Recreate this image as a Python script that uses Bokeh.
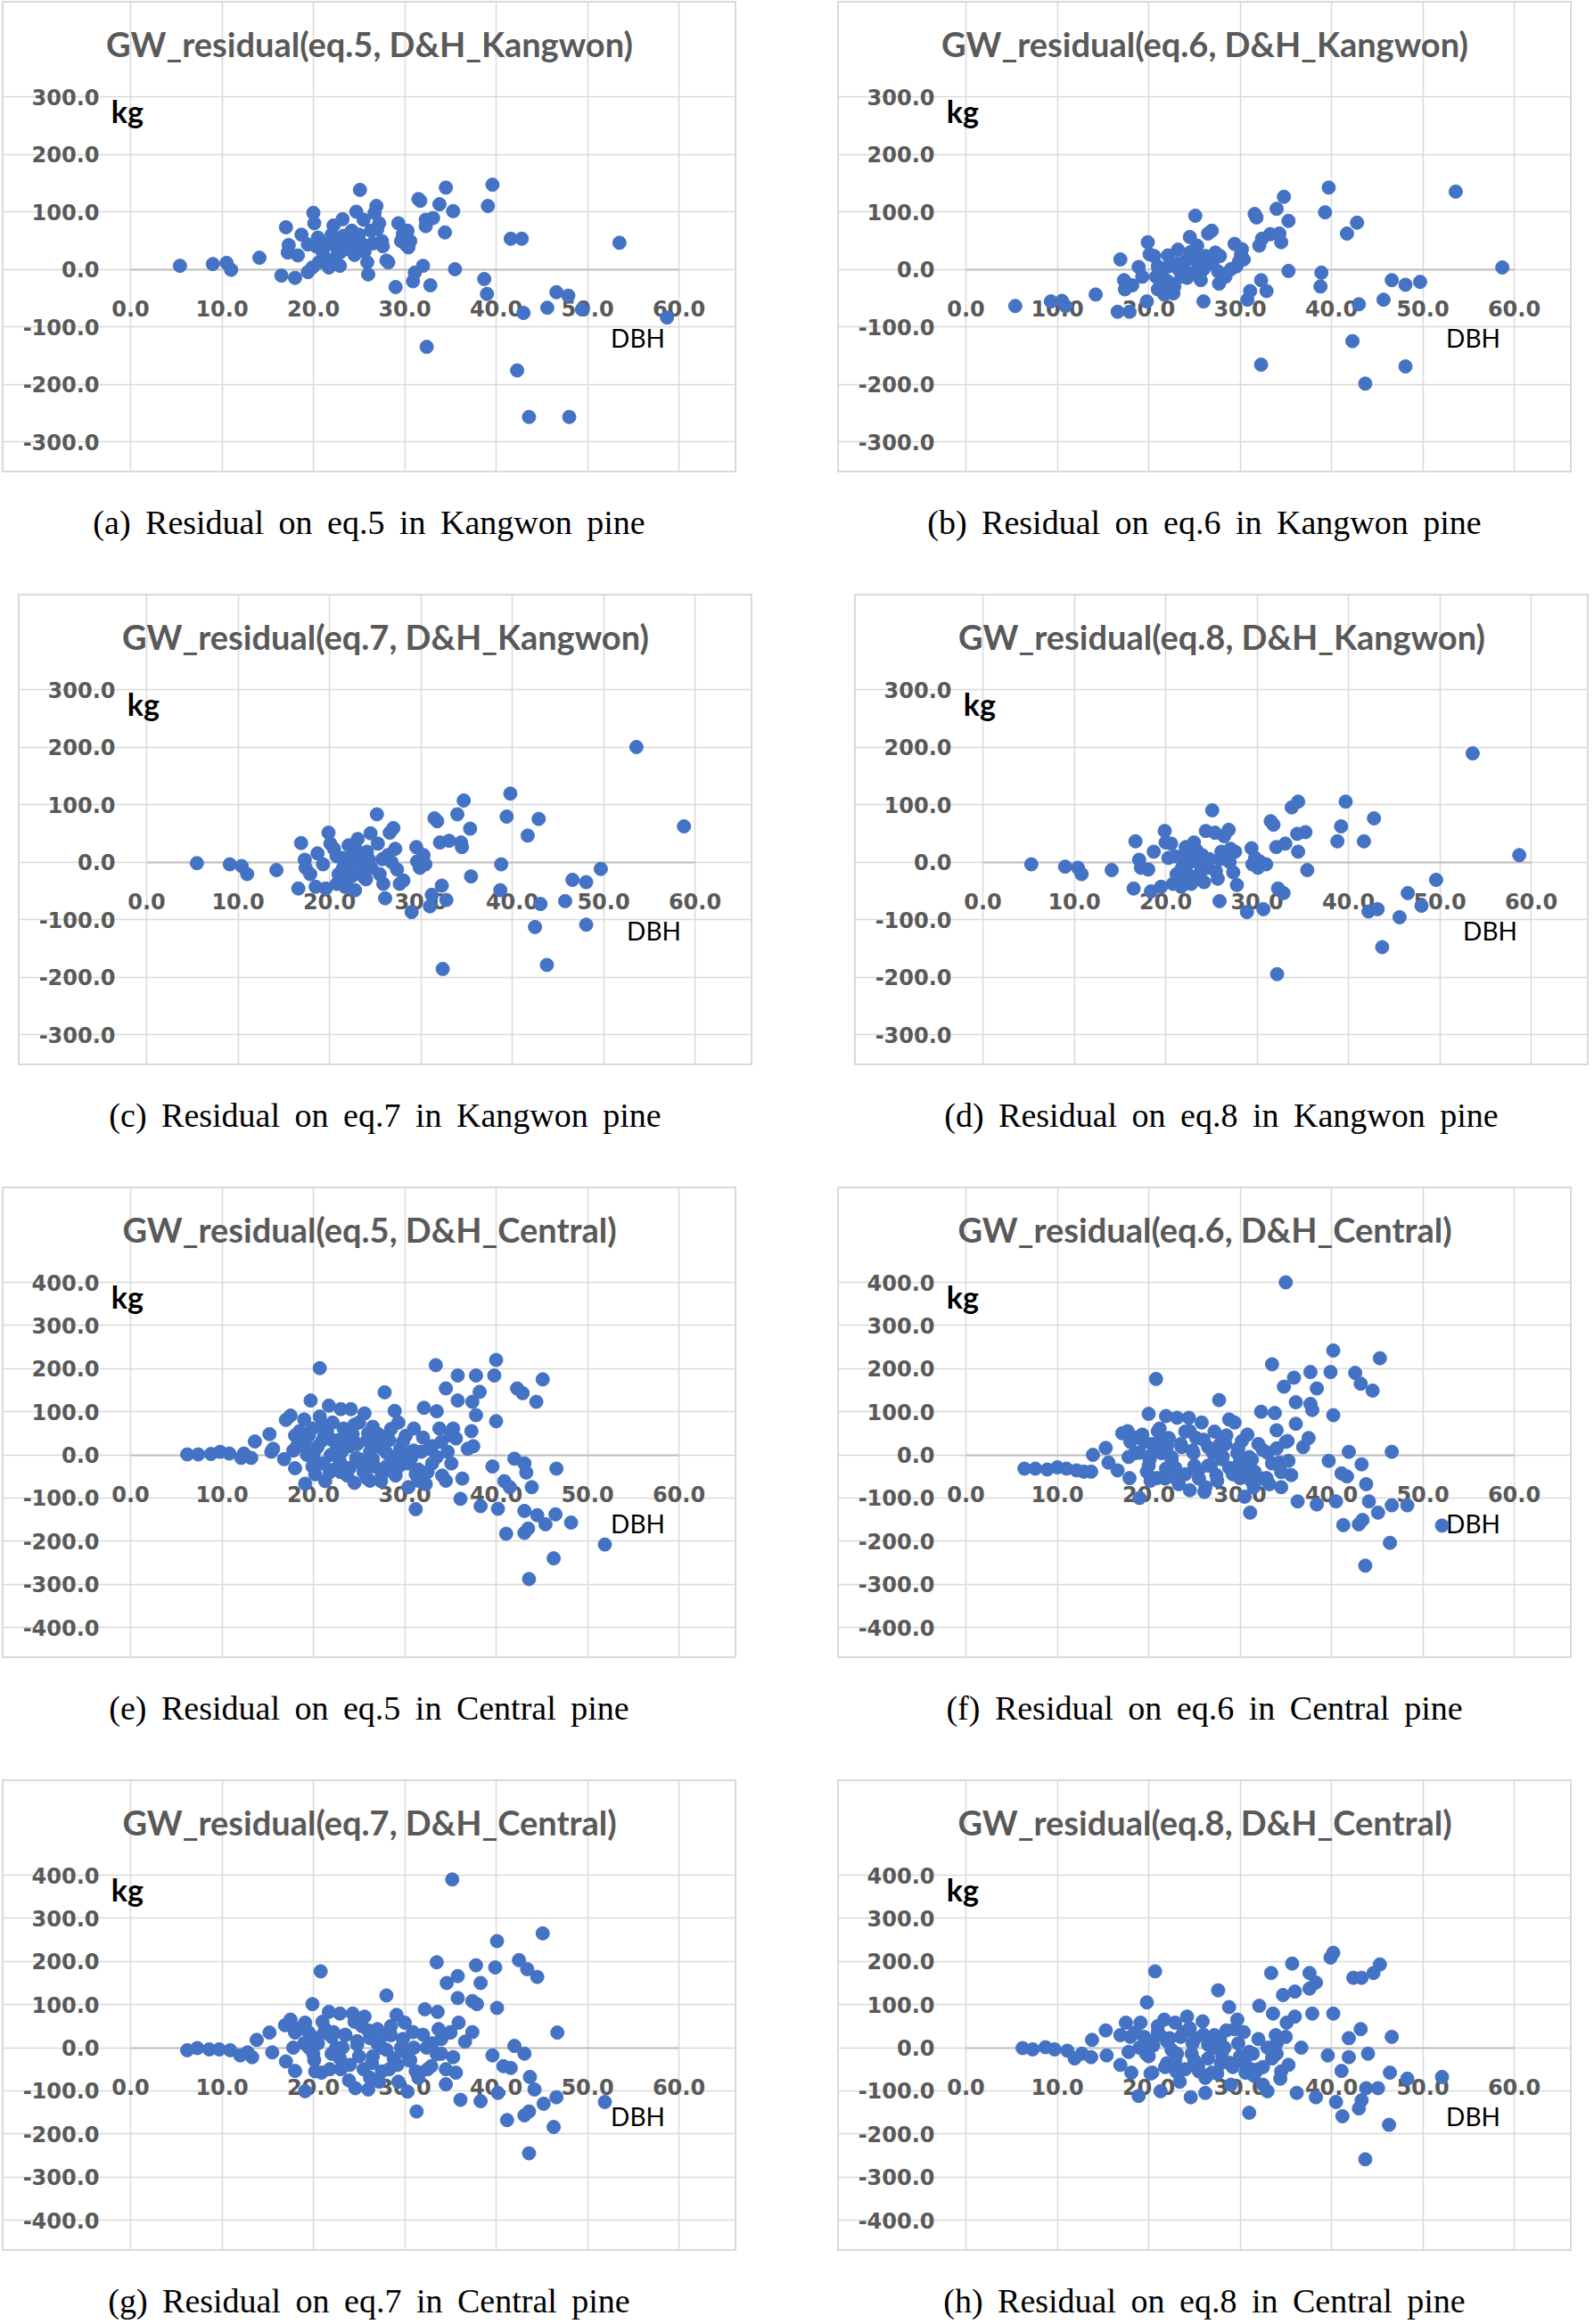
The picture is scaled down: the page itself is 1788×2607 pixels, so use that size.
from bokeh.plotting import figure
from bokeh.models import Range1d, FixedTicker, NumeralTickFormatter, Label, Div, Spacer
from bokeh.layouts import column, row
from bokeh.embed import file_html
from bokeh.resources import INLINE

# ---------------- data: (DBH, residual kg) ----------------
A_PTS = [(5.4,6),(9.0,9),(10.5,11),(11.0,-1),(14.1,20),(16.5,-11),(17.0,73),(17.3,42),(17.2,29),(18.0,-15),
         (18.3,24),(18.7,60),(19.4,43),(19.4,-5),(19.9,3),(20.0,98),(20.1,80),(20.5,55),(20.6,12),(21.2,21),
         (21.4,43),(21.7,3),(22.2,76),(22.4,18),(22.8,49),(22.9,6),(23.2,87),(23.3,58),(23.8,40),(24.2,67),
         (24.3,31),(24.7,100),(24.8,49),(25.1,138),(25.4,43),(25.5,86),(25.6,31),(25.9,12),(26.0,-9),(26.3,67),
         (26.7,98),(26.9,110),(27.2,80),(27.5,49),(27.6,40),(28.0,15),(28.2,12),(29.0,-31),(29.3,80),(29.6,49),
         (29.8,61),(30.1,43),(30.3,67),(30.6,49),(30.9,-21),(31.1,-6),(31.5,122),(31.7,119),(32.0,6),(32.3,86),
         (32.3,75),(32.4,-135),(32.8,-28),(33.1,89),(33.8,113),(34.5,142),(34.4,64),(35.3,101),(35.5,0),(38.7,-17),
         (39.0,-43),(39.1,110),(39.6,147),(41.6,53),(42.8,53),(42.3,-176),(43.0,-76),(43.6,-257),(45.6,-67),(46.6,-40),
         (47.9,-46),(48.0,-257),(49.4,-70),(53.5,46),(58.7,-84),
         (21.0,30),(22.0,60),(23.5,50),(24.0,35),(25.0,60),(26.5,45),(24.5,25),(23.0,30),(21.8,15),(27.0,70),
         (20.3,40),(22.6,35),(29.9,55),(30.4,38)]

B_PTS = [(5.4,-64),(9.3,-56),(10.5,-55),(10.9,-64),(14.2,-44),(16.6,-74),(16.9,17),(17.3,-19),(17.4,-35),(17.9,-74),
         (18.2,-28),(18.9,4),(19.3,-13),(19.8,-56),(19.9,47),(20.1,26),(20.6,23),(20.8,-13),(21.0,-35),(21.4,-1),
         (21.7,-44),(22.1,24),(22.2,5),(22.5,-25),(22.7,-42),(23.2,34),(23.3,-1),(23.6,-13),(24.0,14),(24.3,-7),
         (24.5,56),(24.9,-7),(25.1,93),(25.3,41),(25.4,5),(25.7,-19),(26.0,-56),(26.2,23),(26.5,62),(26.9,67),
         (27.3,29),(27.6,-4),(27.7,-25),(27.8,23),(28.4,-13),(29.4,44),(29.6,5),(29.9,14),(30.1,26),(30.4,17),
         (30.8,-53),(31.1,-38),(31.6,96),(31.8,90),(32.1,41),(32.3,-166),(32.3,-19),(32.4,53),(32.9,-38),(33.3,61),
         (34.0,105),(34.3,62),(34.5,47),(34.8,126),(35.3,84),(35.3,-3),(38.8,-30),(38.9,-6),(39.3,99),(39.7,142),
         (41.7,62),(42.3,-125),(42.8,81),(43.0,-61),(43.7,-199),(45.7,-53),(46.6,-19),(48.1,-27),(48.1,-169),(49.7,-22),
         (53.6,135),(58.7,3),
         (21.0,5),(22.0,-20),(23.0,10),(24.2,-15),(25.0,20),(26.0,0),(27.0,10),(22.8,-30),(24.6,30),(29.0,0),
         (30.2,35),(21.6,-25)]

C_PTS = [(5.5,-2),(9.1,-4),(10.4,-7),(11.0,-21),(14.2,-14),(16.6,-46),(16.9,33),(17.3,4),(17.4,-10),(17.9,-21),
         (18.5,-43),(18.7,15),(19.3,-4),(19.6,-46),(19.9,51),(20.1,32),(20.5,23),(20.8,-38),(21.0,-21),(21.4,7),
         (21.7,-43),(22.1,29),(22.3,-4),(22.5,-24),(22.8,-49),(23.1,40),(23.3,4),(23.8,-27),(24.1,18),(24.5,50),
         (24.6,-10),(25.2,83),(25.3,32),(25.5,-21),(25.9,-38),(26.1,-63),(26.4,12),(26.6,51),(27.0,59),(27.2,23),
         (27.4,-13),(27.7,-38),(28.1,-32),(29.0,-87),(29.5,26),(29.6,1),(29.9,-10),(30.3,12),(30.5,-4),(31.0,-77),
         (31.2,-57),(31.5,76),(31.8,71),(32.1,34),(32.3,-41),(32.4,-186),(32.8,-66),(33.1,37),(34.0,83),(34.4,34),
         (34.7,107),(34.5,26),(35.4,58),(35.5,-25),(38.7,-49),(38.8,-4),(39.4,79),(39.8,119),(41.7,46),(42.5,-113),
         (42.9,75),(43.1,-73),(43.8,-179),(45.8,-68),(46.6,-31),(48.1,-35),(48.1,-109),(49.7,-12),(53.6,200),(58.8,62),
         (21.5,-10),(22.6,15),(23.6,-15),(24.3,5),(20.8,10),(22.0,-30),(25.8,5),(24.0,-30),(23.0,20),(26.8,0)]

D_PTS = [(5.3,-4),(9.0,-8),(10.4,-10),(10.8,-21),(14.1,-14),(16.5,-46),(16.7,36),(17.1,4),(17.3,-10),(18.1,-13),
         (18.4,-51),(18.7,18),(19.5,-43),(19.9,54),(20.0,34),(20.3,7),(20.6,32),(20.8,-38),(21.2,-21),(21.5,9),
         (21.7,-43),(22.2,26),(22.4,-4),(22.6,-24),(22.8,-38),(23.1,34),(23.3,1),(23.7,-21),(24.0,12),(24.4,54),
         (24.6,-10),(25.1,90),(25.4,51),(25.5,-16),(25.7,-29),(25.9,-68),(26.1,18),(26.4,45),(26.9,56),(27.1,23),
         (27.4,-18),(27.6,18),(27.8,-40),(28.9,-87),(29.4,24),(29.5,-4),(29.8,7),(30.1,-10),(30.3,1),(30.7,-82),
         (31.0,-4),(31.5,71),(31.8,65),(32.1,26),(32.3,-46),(32.2,-195),(32.9,-54),(33.1,32),(33.8,95),(34.5,105),
         (34.4,49),(34.5,18),(35.3,52),(35.5,-14),(38.8,36),(39.2,62),(39.7,105),(41.7,36),(42.2,-86),(42.8,76),
         (43.2,-82),(43.7,-148),(45.6,-96),(46.5,-54),(48.0,-76),(49.6,-31),(53.6,189),(58.7,12),
         (21.8,-10),(22.9,15),(23.9,-15),(24.8,5),(21.0,10),(22.3,-30),(26.0,5),(24.2,-35),(23.4,20),(27.0,0)]

E_PTS = [(6.2,1),(7.4,1),(8.8,2),(9.8,7),(10.8,3),(12.1,-7),(12.4,3),(13.2,-7),(13.6,31),(15.2,48),
         (15.4,7),(15.6,14),(16.8,-10),(17.0,81),(17.5,91),(18.0,-31),(18.2,20),(19.0,82),(19.1,-67),(19.7,126),
         (19.1,34),(19.3,0),(19.9,61),(19.9,-27),(20.3,14),(20.7,201),(20.7,89),(21.0,34),(21.1,-20),(21.3,-61),
         (21.5,55),(21.7,114),(21.9,0),(22.1,75),(22.3,-34),(22.7,34),(23.0,106),(23.1,7),(23.3,61),(23.7,-48),
         (23.9,20),(24.1,106),(24.3,48),(24.5,-65),(24.7,-7),(25.0,75),(25.3,-20),(25.6,96),(25.9,34),(25.9,-55),
         (26.2,7),(26.5,65),(26.7,-27),(27.1,48),(27.4,-61),(27.6,14),(27.8,145),(28.0,-27),(28.3,34),(28.7,-7),
         (28.9,102),(29.0,-48),(29.3,75),(29.5,14),(29.9,-20),(30.1,44),(30.4,-75),(30.7,-7),(31.0,61),(31.2,-126),
         (31.5,-34),(31.8,7),(32.1,109),(32.3,-68),(32.7,14),(33.0,-20),(33.4,208),(33.5,101),(33.8,61),(34.1,-48),
         (34.5,154),(34.7,7),(35.1,-20),(35.3,61),(35.6,38),(35.8,184),(35.8,126),(36.1,-102),(36.3,-55),(36.9,14),
         (37.3,55),(37.4,123),(37.5,20),(37.8,184),(37.8,92),(38.2,146),(38.3,-119),(39.6,-27),(39.8,184),(40.0,220),
         (40.0,78),(40.2,-125),(40.9,-61),(41.1,-183),(41.5,-75),(42.0,-9),(42.3,154),(42.9,143),(43.1,-20),(43.1,-130),
         (43.1,-181),(43.3,-41),(43.5,-171),(43.6,-288),(43.9,-75),(44.4,123),(44.5,-140),(45.1,175),(45.4,-161),(46.3,-240),
         (46.5,-138),(46.6,-32),(48.2,-157),(51.9,-208),
         (20.0,-5),(20.5,20),(21.2,45),(21.8,-40),(22.5,10),(22.9,-15),(23.5,40),(24.0,-30),(24.8,25),(25.5,-40),
         (26.0,50),(26.5,-10),(27.0,20),(27.5,-45),(28.0,5),(28.5,60),(29.2,-30),(29.8,30),(30.5,-20),(31.0,10),
         (31.5,-60),(32.0,40),(32.5,-40),(33.0,20),(33.5,-5),(34.0,30),(34.5,-60),(35.0,45),(19.5,45),(20.2,-45),
         (21.0,70),(22.0,35),(23.0,-40),(24.5,70),(25.0,-10),(26.2,-60),(27.8,40),(28.8,-15),(30.0,0),(31.2,-45),
         (18.5,55),(19.0,20),(18.0,45),(17.8,10)]

F_PTS = [(6.4,-32),(7.6,-32),(8.9,-34),(10.0,-29),(11.0,-32),(12.1,-36),(12.9,-39),(13.7,-39),(13.9,0),(15.3,16),
         (15.6,-18),(16.6,-36),(17.1,50),(17.7,55),(17.9,-54),(18.5,4),(19.0,-100),(19.3,47),(19.8,-39),(20.0,95),
         (20.1,-11),(20.4,25),(20.8,176),(20.9,-54),(21.2,61),(21.4,4),(21.9,90),(21.9,-32),(22.2,39),(22.5,-11),
         (23.1,86),(23.3,-68),(23.6,18),(24.0,54),(24.4,86),(24.5,-82),(24.9,4),(25.2,39),(25.4,-39),(25.8,75),
         (26.1,-86),(26.5,18),(26.8,-25),(27.2,54),(27.4,-47),(27.7,127),(28.1,-4),(28.4,25),(28.8,82),(29.0,-32),
         (29.4,75),(29.7,4),(30.0,-54),(30.2,32),(30.5,-97),(30.8,47),(31.1,-134),(31.3,-11),(31.6,-39),(32.3,100),
         (32.5,11),(32.9,-54),(33.2,-68),(33.5,210),(33.8,97),(34.0,57),(34.3,-18),(34.5,-75),(34.8,158),(35.0,400),
         (35.2,32),(35.3,-14),(35.6,-47),(35.9,179),(36.1,122),(36.1,72),(36.3,-108),(36.9,18),(37.5,39),(37.7,192),
         (37.7,118),(37.9,104),(38.4,154),(38.4,-115),(39.7,-14),(39.9,192),(40.2,242),(40.2,92),(40.5,-108),(41.1,-43),
         (41.3,-163),(41.7,-50),(41.9,7),(42.6,190),(43.2,165),(43.0,-161),(43.3,-22),(43.4,-151),(43.8,-68),(43.7,-257),
         (44.1,-108),(44.5,149),(45.1,-134),(45.3,224),(46.4,-204),(46.6,7),(46.6,-117),(48.3,-117),(52.1,-164),
         (20.0,-25),(20.5,5),(21.2,30),(21.8,-55),(22.5,-5),(22.9,-30),(23.5,25),(24.0,-45),(24.8,10),(25.5,-55),
         (26.0,35),(26.5,-25),(27.0,5),(27.5,-60),(28.0,-10),(28.5,45),(29.2,-45),(29.8,15),(30.5,-35),(31.0,-5),
         (31.5,-75),(32.0,25),(32.5,-55),(33.0,5),(33.5,-20),(34.0,15),(34.5,-40),(35.0,30),(19.5,30),(20.2,-60),
         (21.0,55),(22.0,20),(23.0,-55),(24.5,55),(25.0,-25),(26.2,-75),(27.8,25),(28.8,-30),(30.0,-15),(31.2,-60),
         (18.5,40),(19.0,5),(18.0,30),(17.8,-5)]

G_PTS = [(6.2,-6),(7.3,-1),(8.6,-4),(9.7,-4),(10.9,-6),(12.0,-18),(12.8,-11),(13.3,-22),(13.8,18),(15.2,35),
         (15.5,-11),(16.9,52),(17.5,65),(17.0,-32),(18.0,-54),(19.1,-101),(19.1,58),(19.5,0),(19.9,101),(20.1,-29),
         (20.4,22),(20.8,177),(20.9,-58),(21.3,43),(21.7,83),(22.0,-14),(22.2,36),(22.9,79),(23.2,0),(23.5,29),
         (23.9,-76),(24.3,79),(24.6,-94),(24.8,7),(25.3,50),(25.6,72),(26.0,-97),(26.2,22),(26.4,-36),(27.0,43),
         (27.2,-79),(27.5,0),(28.0,121),(28.3,-50),(28.5,29),(29.1,76),(29.3,-79),(29.6,0),(30.0,58),(30.3,-102),
         (30.6,-29),(30.9,36),(31.3,-148),(31.6,-58),(32.2,89),(32.4,0),(32.9,-43),(33.5,198),(33.6,83),(33.7,43),
         (34.0,-14),(34.5,-85),(34.6,150),(35.0,36),(35.3,-22),(35.6,-58),(35.8,166),(35.8,115),(35.9,58),(36.1,-121),
         (36.6,14),(37.4,108),(37.4,36),(37.8,191),(37.9,101),(38.3,150),(38.3,-124),(39.6,-18),(39.9,186),(40.1,247),
         (40.1,92),(40.2,-105),(40.8,-43),(41.2,-168),(41.6,-47),(42.0,4),(42.5,203),(43.1,-14),(43.1,-157),(43.4,182),
         (43.6,-148),(43.6,-245),(43.7,-68),(44.2,-97),(44.5,164),(45.1,265),(45.2,-130),(46.3,-184),(46.6,-115),(46.7,35),
         (51.9,-126),(35.2,390),
         (20.0,-15),(20.5,10),(21.2,35),(21.8,-50),(22.5,0),(22.9,-25),(23.5,30),(24.0,-40),(24.8,15),(25.5,-50),
         (26.0,40),(26.5,-20),(27.0,10),(27.5,-55),(28.0,-5),(28.5,50),(29.2,-40),(29.8,20),(30.5,-30),(31.0,0),
         (31.5,-70),(32.0,30),(32.5,-50),(33.0,10),(33.5,-15),(34.0,20),(34.5,-50),(35.0,35),(19.5,35),(20.2,-55),
         (21.0,60),(22.0,25),(23.0,-50),(24.5,60),(25.0,-20),(26.2,-70),(27.8,30),(28.8,-25),(30.0,-10),(31.2,-55),
         (18.5,45),(19.0,10),(18.0,35),(17.8,0)]

H_PTS = [(6.2,-1),(7.3,-4),(8.7,1),(9.7,-4),(11.1,-7),(11.9,-25),(12.7,-14),(13.7,-22),(13.8,18),(15.3,40),
         (15.4,-18),(16.9,29),(16.9,-40),(17.5,58),(18.1,-58),(18.9,-112),(19.1,58),(19.7,-14),(19.8,105),(20.2,14),
         (20.4,-58),(20.7,177),(21.0,36),(21.3,-101),(21.7,65),(22.0,-36),(22.3,22),(22.9,58),(23.1,-14),(23.4,-79),
         (23.8,36),(24.2,72),(24.6,-115),(24.7,-14),(25.1,22),(25.4,-43),(25.9,61),(26.2,-105),(26.5,7),(26.9,-58),
         (27.2,29),(27.6,133),(27.9,-36),(28.3,0),(28.8,94),(29.0,-86),(29.4,43),(29.7,65),(30.0,-29),(30.4,36),
         (30.6,-58),(31.0,-151),(31.4,-14),(32.0,-50),(32.1,97),(32.5,-86),(33.0,-101),(33.4,173),(33.6,79),(33.9,29),
         (34.0,-14),(34.4,-72),(34.7,122),(35.1,58),(35.3,-40),(35.7,195),(36.0,130),(36.0,72),(36.2,-105),(36.7,0),
         (37.6,173),(37.6,137),(37.9,79),(38.3,151),(38.3,-115),(39.6,-18),(39.9,209),(40.2,220),(40.2,79),(40.5,-126),
         (41.1,-54),(41.2,-159),(41.9,-22),(41.9,22),(42.4,162),(43.0,-141),(43.2,43),(43.3,162),(43.3,-122),(43.8,-94),
         (43.7,-259),(44.0,-14),(44.6,173),(45.1,-94),(45.3,193),(46.4,-58),(46.6,25),(46.3,-179),(48.3,-72),(52.1,-68),
         (20.0,-20),(20.5,5),(21.2,30),(21.8,-45),(22.5,-5),(22.9,-30),(23.5,25),(24.0,-50),(24.8,10),(25.5,-55),
         (26.0,30),(26.5,-25),(27.0,0),(27.5,-60),(28.0,-15),(28.5,40),(29.2,-45),(29.8,10),(30.5,-35),(31.0,-10),
         (31.5,-65),(32.0,20),(32.5,-45),(33.0,0),(33.5,-25),(34.0,10),(34.5,-55),(35.0,25),(19.5,25),(20.2,-60),
         (21.0,50),(22.0,15),(23.0,-55),(24.5,45),(25.0,-30),(26.2,-70),(27.8,20),(28.8,-35),(30.0,-20),(31.2,-50),
         (18.5,35),(19.0,0),(18.0,25),(17.8,-10)]

X_TICKS = [0, 10, 20, 30, 40, 50, 60]
KANGWON_TICKS = [-300, -200, -100, 0, 100, 200, 300]
CENTRAL_TICKS = [-400, -300, -200, -100, 0, 100, 200, 300, 400]

TITLES = ["GW_residual(eq.5, D&H_Kangwon)", "GW_residual(eq.6, D&H_Kangwon)",
          "GW_residual(eq.7, D&H_Kangwon)", "GW_residual(eq.8, D&H_Kangwon)",
          "GW_residual(eq.5, D&H_Central)", "GW_residual(eq.6, D&H_Central)",
          "GW_residual(eq.7, D&H_Central)", "GW_residual(eq.8, D&H_Central)"]
CAPTIONS = ["(a) Residual on eq.5 in Kangwon pine", "(b) Residual on eq.6 in Kangwon pine",
            "(c) Residual on eq.7 in Kangwon pine", "(d) Residual on eq.8 in Kangwon pine",
            "(e) Residual on eq.5 in Central pine", "(f) Residual on eq.6 in Central pine",
            "(g) Residual on eq.7 in Central pine", "(h) Residual on eq.8 in Central pine"]
Y_LABEL = "kg"
X_LABEL = "DBH"

# ---------------- styling ----------------
BOX_W = 824          # bordered chart box
BOX_H = 529
FRAME_W = 615        # plot-area size in pixels
FRAME_H = 387
LEFT_B = 144         # plot-area offset inside the box
TOP_B = 107
BLUE = "#4472C4"
GRID = "#d9d9d9"
TXT = "#595959"
SANS = "Lato"
TICK_FONT = "DejaVu Sans"


def make_panel(pts, title, yticks, width=BOX_W):
    xs = [p[0] for p in pts]
    ys = [p[1] for p in pts]
    ymin, ymax = yticks[0], yticks[-1]
    xmin, xmax = X_TICKS[0], X_TICKS[-1]
    rng = ymax - ymin
    upp = rng / FRAME_H                 # y data units per pixel
    xpp = (xmax - xmin) / FRAME_W       # x data units per pixel
    bottom_b = BOX_H - TOP_B - FRAME_H
    right_b = width - LEFT_B - FRAME_W
    # the frame fills the whole box; the plot area is bounded by grid bounds
    p = figure(width=width, height=BOX_H,
               x_range=Range1d(xmin - LEFT_B * xpp, xmax + right_b * xpp),
               y_range=Range1d(ymin - bottom_b * upp, ymax + TOP_B * upp),
               output_backend="svg", toolbar_location=None,
               min_border=0, min_border_left=0, min_border_right=0,
               min_border_top=0, min_border_bottom=0,
               background_fill_color="white", border_fill_color="white",
               outline_line_color=GRID, outline_line_width=3)

    for ax in (p.xaxis, p.yaxis):
        ax.formatter = NumeralTickFormatter(format="0.0")
        ax.major_tick_line_color = None
        ax.minor_tick_line_color = None
        ax.major_tick_out = 0
        ax.major_tick_in = 0
        ax.minor_tick_out = 0
        ax.major_label_text_font = TICK_FONT
        ax.major_label_text_font_style = "bold"
        ax.major_label_text_font_size = "24px"
        ax.major_label_text_color = TXT

    p.xaxis.ticker = FixedTicker(ticks=X_TICKS)
    p.xaxis.fixed_location = 0
    p.xaxis.bounds = (xmin, xmax)
    p.xaxis.axis_line_color = "#bfbfbf"
    p.xaxis.axis_line_width = 2
    p.xaxis.major_label_standoff = 35

    p.yaxis.ticker = FixedTicker(ticks=yticks)
    p.yaxis.fixed_location = xmin
    p.yaxis.bounds = (ymin, ymax)
    p.yaxis.axis_line_color = None
    p.yaxis.major_label_standoff = 35

    p.xgrid.grid_line_color = GRID
    p.xgrid.grid_line_width = 1.5
    p.xgrid.bounds = (ymin, ymax)
    p.ygrid.grid_line_color = GRID
    p.ygrid.grid_line_width = 1.5
    p.ygrid.bounds = (xmin, xmax)

    p.scatter(xs, ys, size=15, fill_color=BLUE, line_color=BLUE, line_width=1, level="overlay")

    # chart title, centred over the whole box
    p.add_layout(Label(x=xmin + (width / 2 - LEFT_B) * xpp, y=ymax + 60 * upp, text=title,
                       text_align="center", text_baseline="middle", text_font=SANS,
                       text_font_style="bold", text_font_size="38px", text_color=TXT))
    p.add_layout(Label(x=xmin - 3.7 * xpp, y=ymax - 16 * upp, text=Y_LABEL, text_align="center",
                       text_baseline="middle", text_font=SANS, text_font_style="bold",
                       text_font_size="34px", text_color="black"))
    p.add_layout(Label(x=xmin + 569 * xpp, y=ymax - 270 * upp, text=X_LABEL,
                       text_align="center", text_baseline="middle", text_font=SANS,
                       text_font_size="28px", text_color="black"))
    return p


def caption(text, height, width=BOX_W):
    html = ('<div style="font-family:\'Liberation Serif\',\'Times New Roman\',serif;font-size:38px;'
            'line-height:44px;word-spacing:7px;text-align:center;white-space:nowrap;color:#000;'
            f'width:{width}px;padding-top:34px;">{text}</div>')
    return Div(text=html, width=width, height=height, margin=0)


def cell(i, pts, yticks, cap_h):
    return column(make_panel(pts, TITLES[i], yticks), caption(CAPTIONS[i], cap_h))


CAP_H = 665 - BOX_H
r1 = row(cell(0, A_PTS, KANGWON_TICKS, CAP_H), Spacer(width=113), cell(1, B_PTS, KANGWON_TICKS, CAP_H))
r2 = row(Spacer(width=18), cell(2, C_PTS, KANGWON_TICKS, CAP_H), Spacer(width=114),
         cell(3, D_PTS, KANGWON_TICKS, CAP_H))
r3 = row(cell(4, E_PTS, CENTRAL_TICKS, CAP_H), Spacer(width=113), cell(5, F_PTS, CENTRAL_TICKS, CAP_H))
r4 = row(cell(6, G_PTS, CENTRAL_TICKS, 76), Spacer(width=113), cell(7, H_PTS, CENTRAL_TICKS, 76))

page = column(r1, r2, r3, r4, styles={"margin-left": "2px", "margin-top": "1px"})

open("out.html", "w").write(file_html(page, INLINE))
